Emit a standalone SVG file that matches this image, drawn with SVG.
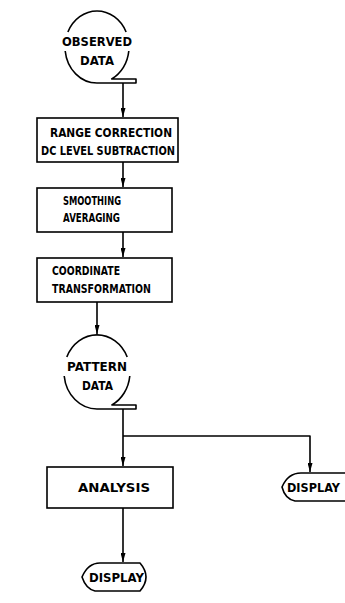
<svg xmlns="http://www.w3.org/2000/svg" width="345" height="603" viewBox="0 0 345 603">
<style>
.ln{fill:none;stroke:#000;stroke-width:1.6;stroke-linejoin:round}
.bx{fill:#fff;stroke:#000;stroke-width:1.6}
.t{font-family:"DejaVu Sans","Liberation Sans",sans-serif;font-weight:bold;font-size:13px;fill:#000}
</style>
<defs>
<marker id="ah" markerUnits="userSpaceOnUse" markerWidth="9" markerHeight="5" refX="9" refY="2.5" orient="auto">
<path d="M0,0 L9,2.5 L0,5 Z" fill="#000"/>
</marker>
</defs>
<rect width="345" height="603" fill="#fff"/>
<g id="connectors">
<path class="ln" d="M123,83 V117" marker-end="url(#ah)"/>
<path class="ln" d="M123,162 V187" marker-end="url(#ah)"/>
<path class="ln" d="M123,232 V257" marker-end="url(#ah)"/>
<path class="ln" d="M97,302 V334" marker-end="url(#ah)"/>
<path class="ln" d="M123,409 V466" marker-end="url(#ah)"/>
<path class="ln" d="M123,436 H310 V472" marker-end="url(#ah)"/>
<path class="ln" d="M123,508 V562" marker-end="url(#ah)"/>
</g>
<g id="observed-data">
<path class="ln" d="M67.9,32 A32,36 0 0 1 126.1,32"/>
<path class="ln" d="M65.2,51 A32,36 0 0 0 97,83 H136 V79 H111.7 A32,36 0 0 0 128.8,51"/>
<text class="t" x="62" y="46" textLength="70" lengthAdjust="spacingAndGlyphs">OBSERVED</text>
<text class="t" x="80" y="65" textLength="34" lengthAdjust="spacingAndGlyphs">DATA</text>
</g>
<g id="range-correction">
<rect class="bx" x="37" y="118" width="141" height="44"/>
<text class="t" x="50" y="137" textLength="122" lengthAdjust="spacingAndGlyphs">RANGE CORRECTION</text>
<text class="t" x="41" y="155" textLength="134" lengthAdjust="spacingAndGlyphs">DC LEVEL SUBTRACTION</text>
</g>
<g id="smoothing">
<rect class="bx" x="37" y="188" width="135" height="44"/>
<text class="t" x="63" y="205" textLength="58" lengthAdjust="spacingAndGlyphs">SMOOTHING</text>
<text class="t" x="63" y="222" textLength="57" lengthAdjust="spacingAndGlyphs">AVERAGING</text>
</g>
<g id="coordinate">
<rect class="bx" x="37" y="258" width="135" height="44"/>
<text class="t" x="52" y="275" textLength="68" lengthAdjust="spacingAndGlyphs">COORDINATE</text>
<text class="t" x="52" y="293" textLength="99" lengthAdjust="spacingAndGlyphs">TRANSFORMATION</text>
</g>
<g id="pattern-data">
<path class="ln" d="M66.8,357 A33,37 0 0 1 127.2,357"/>
<path class="ln" d="M64.2,376 A33,37 0 0 0 97,409 H136 V405 H111.9 A33,37 0 0 0 129.8,376"/>
<text class="t" x="67" y="371" textLength="60" lengthAdjust="spacingAndGlyphs">PATTERN</text>
<text class="t" x="82" y="390" textLength="31" lengthAdjust="spacingAndGlyphs">DATA</text>
</g>
<g id="analysis">
<rect class="bx" x="47" y="467" width="126" height="41"/>
<text class="t" x="78" y="492" textLength="72" lengthAdjust="spacingAndGlyphs">ANALYSIS</text>
</g>
<g id="display-right">
<path class="ln" d="M282,487 Q288,473 301,473 H355 V501 H295 Q285,499 282,487 Z"/>
<text class="t" x="287" y="492" textLength="53" lengthAdjust="spacingAndGlyphs">DISPLAY</text>
</g>
<g id="display-bottom">
<path class="ln" d="M82,577 Q88,563 100,563 H140 Q152,577 140,591 H95 Q86,589 82,577 Z"/>
<text class="t" x="89" y="582" textLength="55" lengthAdjust="spacingAndGlyphs">DISPLAY</text>
</g>
</svg>
